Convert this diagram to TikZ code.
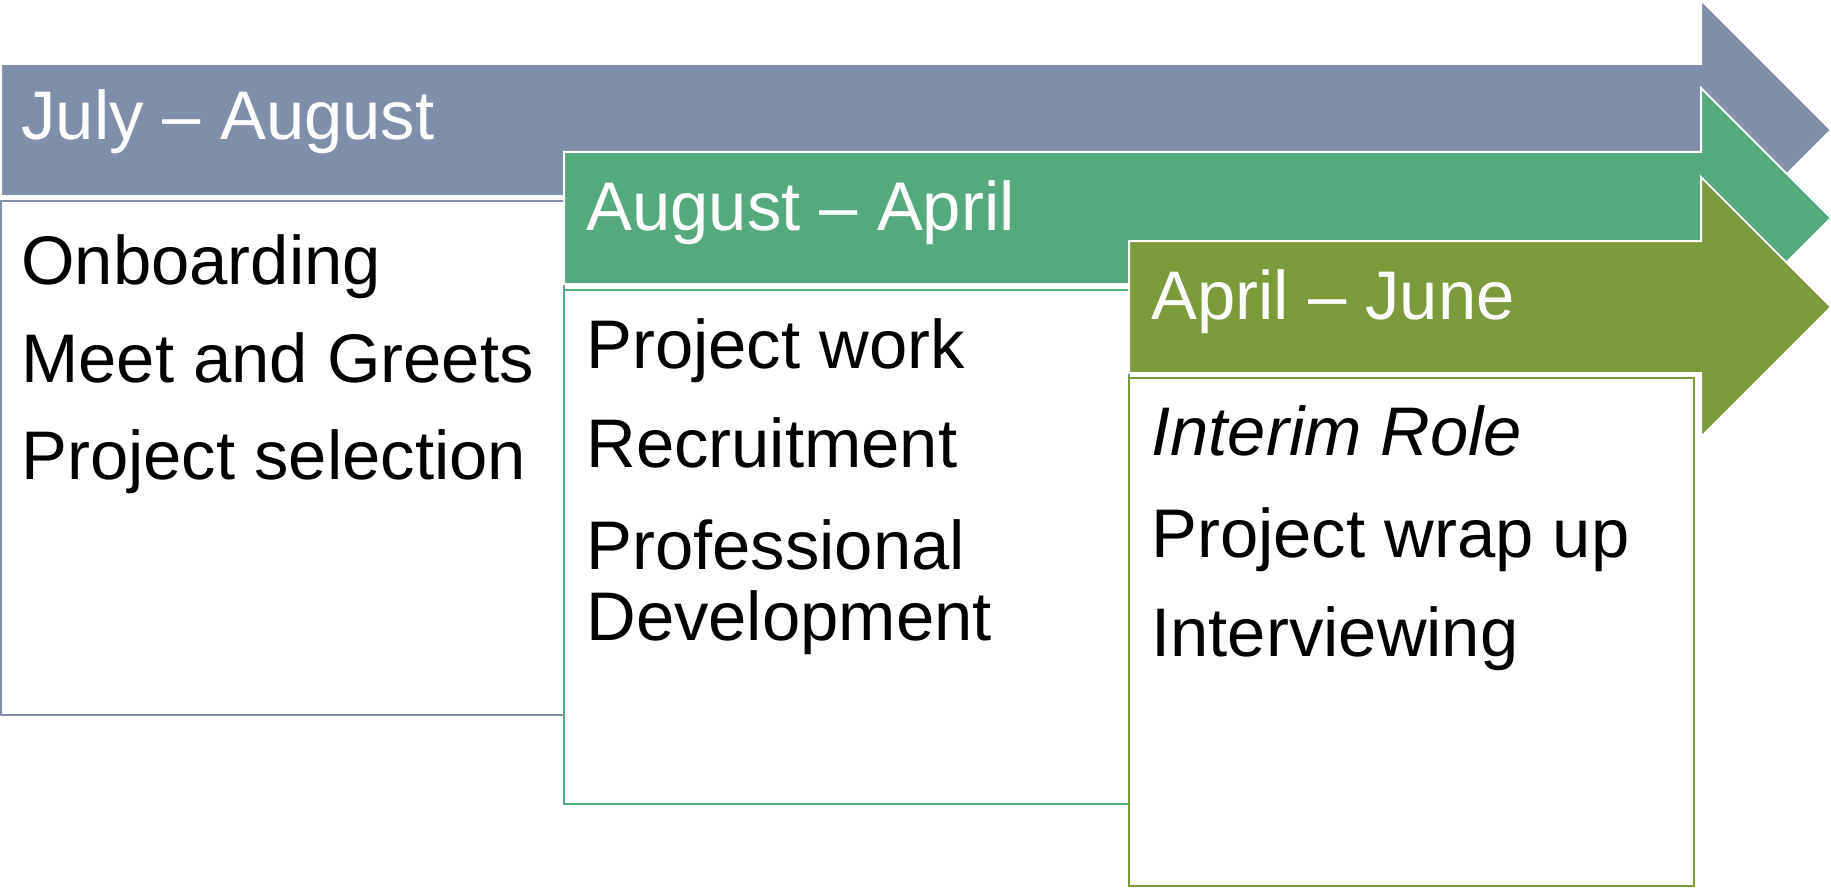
\documentclass[tikz,border=0pt]{standalone}
\usepackage{fontspec}
\setmainfont{Liberation Sans}
\definecolor{phaseA}{RGB}{127,143,169}
\definecolor{phaseB}{RGB}{84,170,124}
\definecolor{phaseC}{RGB}{123,154,58}

\begin{document}
\begin{tikzpicture}[x=0.5pt,y=0.5pt,yscale=-1,xscale=1,
  band/.style={draw=white,line width=1pt},
  listbox/.style={fill=white,line width=1pt},
  headtext/.style={anchor=base west,inner sep=0pt,text=white,font=\fontsize{34.4}{41}\selectfont},
  itemtext/.style={anchor=base west,inner sep=0pt,font=\fontsize{34.4}{41}\selectfont}]
\useasboundingbox (0,0) rectangle (1831,888);

%Arrow: July - August
\filldraw[fill=phaseA,band] (1,64) -- (1701,64) -- (1701,0) -- (1831,130) -- (1701,260) -- (1701,196) -- (1,196) -- cycle;
%Box: July - August
\draw[phaseA,listbox] (1,201) rectangle (564,715);

%Arrow: August - April
\filldraw[fill=phaseB,band] (564,152) -- (1701,152) -- (1701,88) -- (1831,218) -- (1701,348) -- (1701,284) -- (564,284) -- cycle;
%Box: August - April
\draw[phaseB,listbox] (564,290) rectangle (1129,804);

%Arrow: April - June
\filldraw[fill=phaseC,band] (1129,241) -- (1701,241) -- (1701,177) -- (1831,307) -- (1701,437) -- (1701,373) -- (1129,373) -- cycle;
%Box: April - June
\draw[phaseC,listbox] (1129,378) rectangle (1694,886);

%Headings
\node[headtext] (julyaug) at (21,140) {July – August};
\node[headtext] (augapr) at (586,230) {August – April};
\node[headtext] (aprjun) at (1151,319) {April – June};

%Items
\node[itemtext] (onboard) at (21,284) {Onboarding};
\node[itemtext] (meet) at (21,382) {Meet and Greets};
\node[itemtext] (select) at (21,479) {Project selection};

\node[itemtext] (work) at (586,368) {Project work};
\node[itemtext] (recruit) at (586,467) {Recruitment};
\node[itemtext] (profa) at (586,569) {Professional};
\node[itemtext] (profb) at (586,640) {Development};

\node[itemtext,font=\fontsize{34.4}{41}\selectfont\itshape] (interim) at (1151,455) {Interim Role};
\node[itemtext] (wrap) at (1151,557) {Project wrap up};
\node[itemtext] (interview) at (1151,656) {Interviewing};

\end{tikzpicture}
\end{document}
